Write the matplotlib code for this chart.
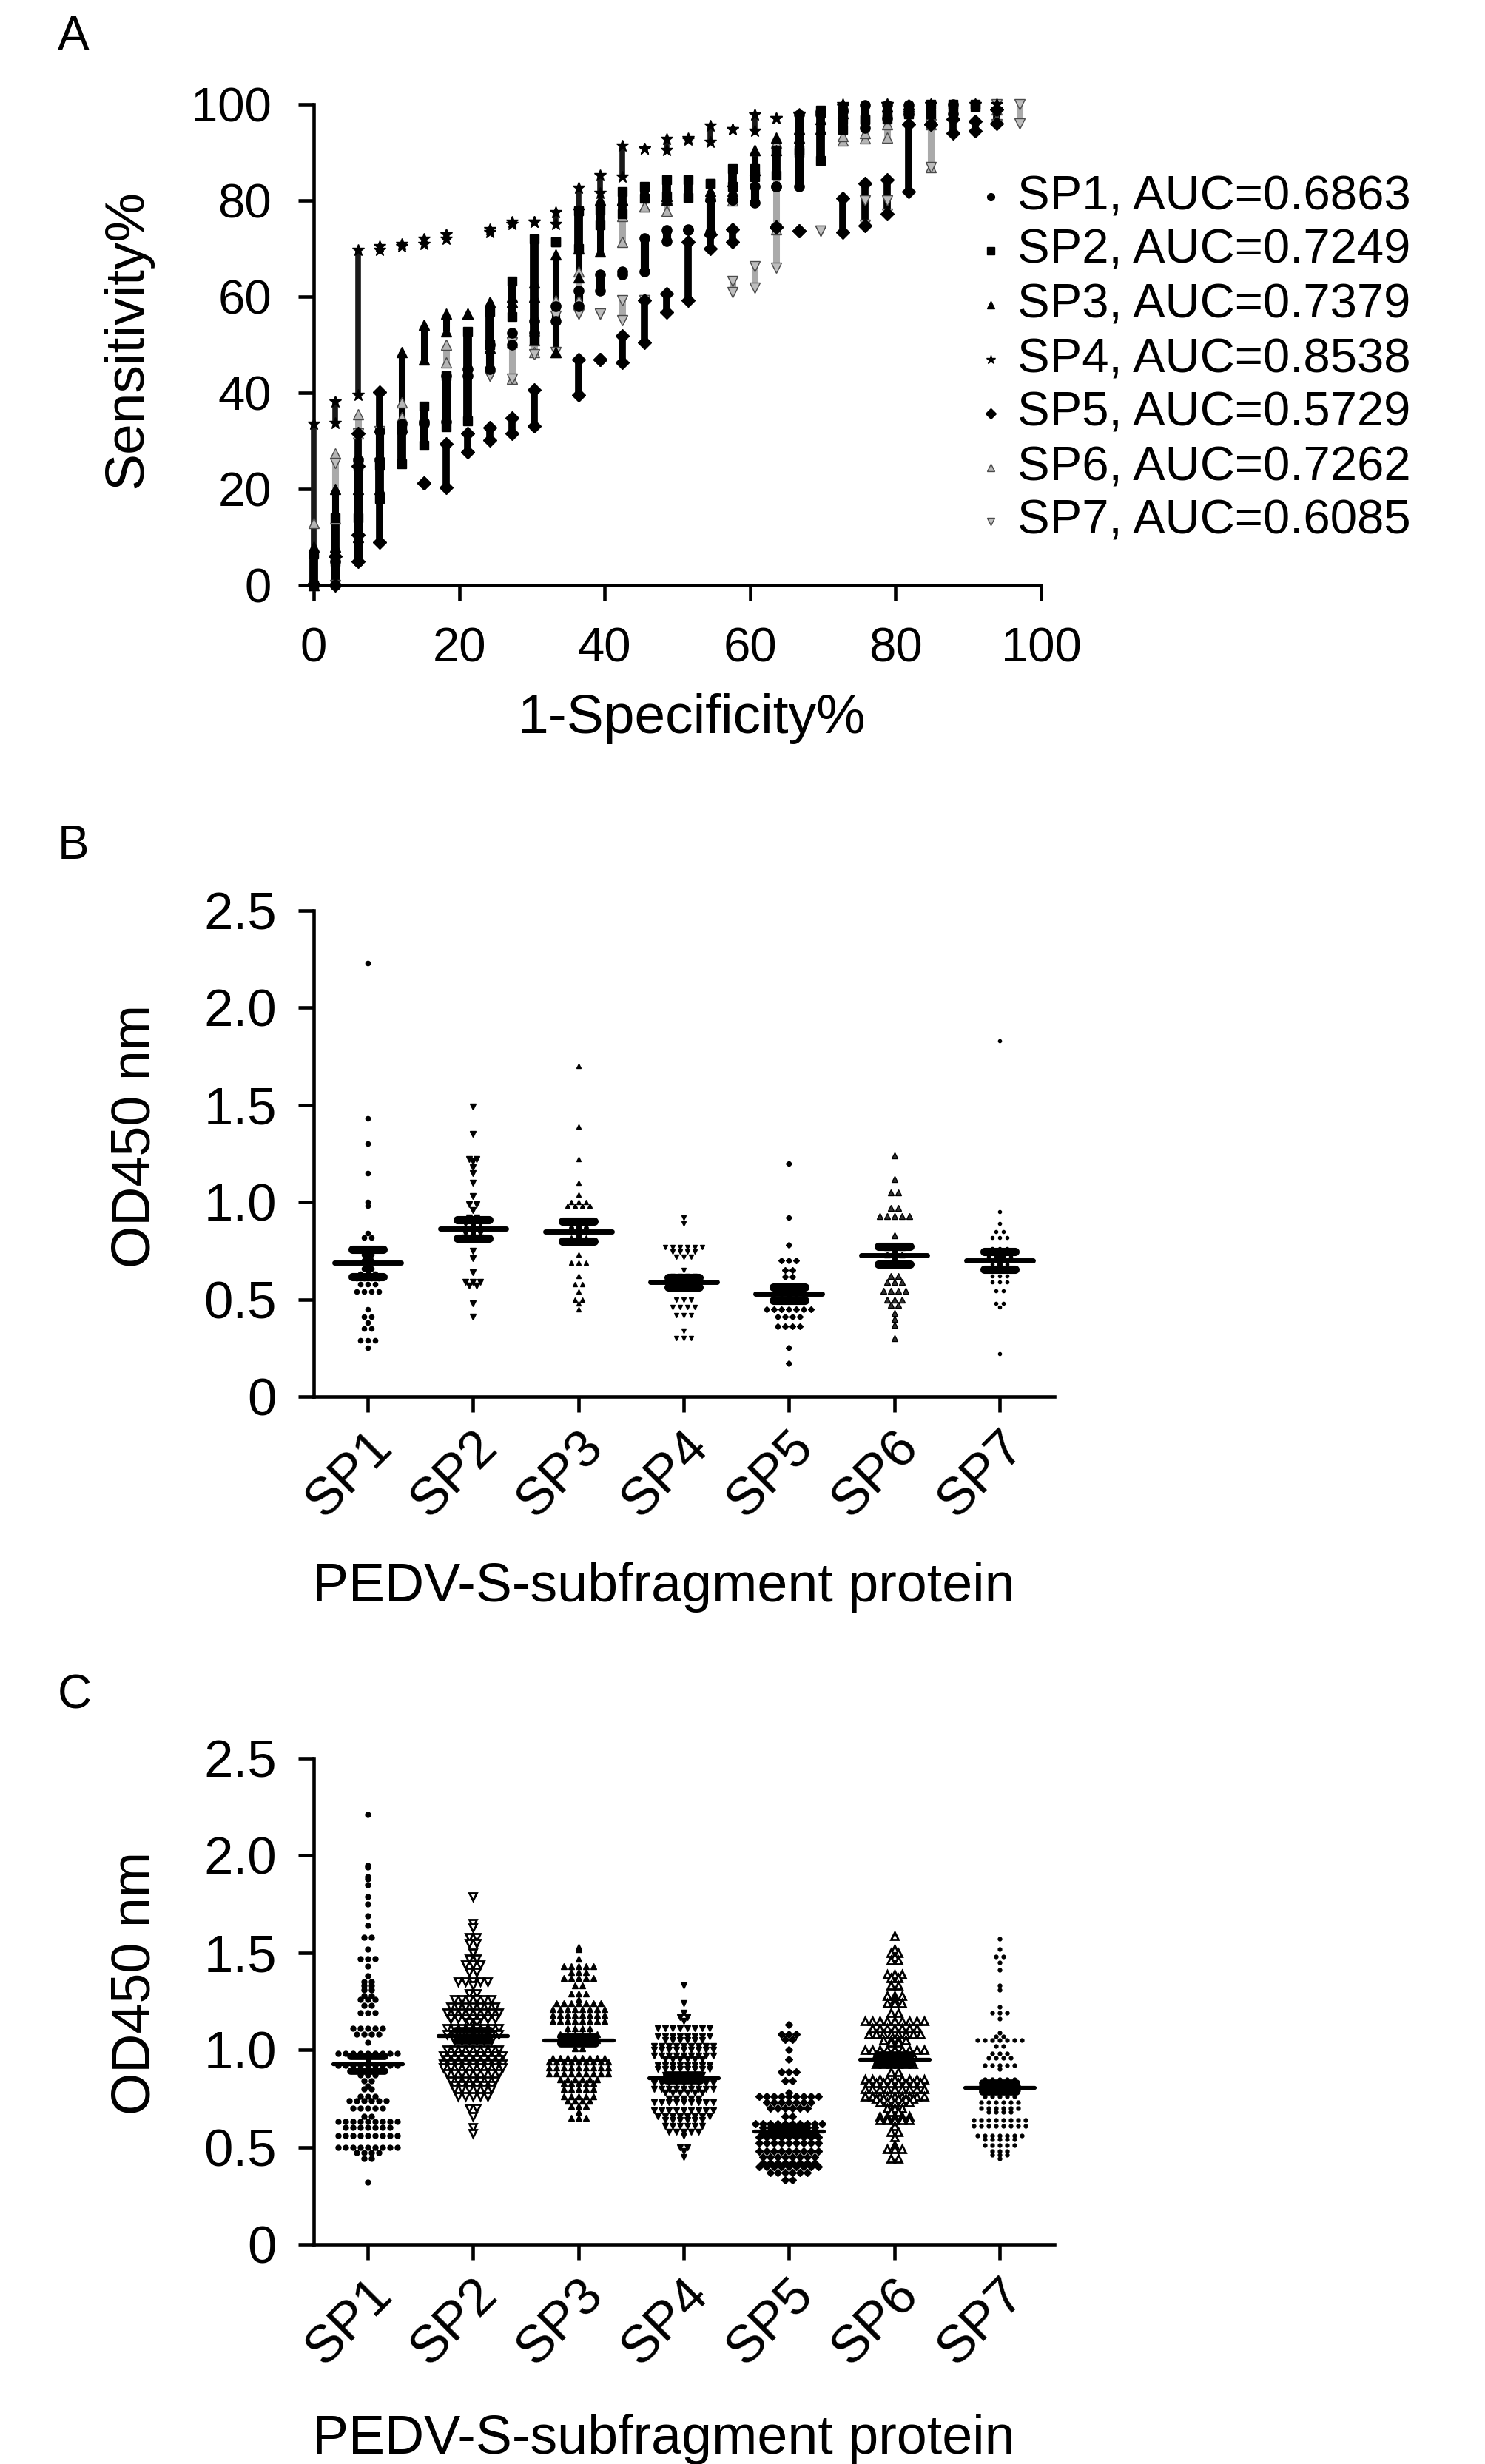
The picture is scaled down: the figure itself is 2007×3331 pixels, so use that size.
import numpy as np
import matplotlib
matplotlib.use('Agg')
import matplotlib.pyplot as plt

plt.rcParams['font.family'] = ['Liberation Sans', 'DejaVu Sans']

# ---- data ----
proteins = ['SP1', 'SP2', 'SP3', 'SP4', 'SP5', 'SP6', 'SP7']
auc = [0.6863, 0.7249, 0.7379, 0.8538, 0.5729, 0.7262, 0.6085]

# ROC (panel A): (1-specificity %, sensitivity low %, sensitivity high %) per visible column
roc_sp1 = [(0, 0, 0), (3.0, 0, 5), (6.1, 5, 26), (9.1, 26, 32), (12.1, 32, 33.5), (15.2, 33.5, 34),
           (18.2, 34, 43.6), (21.2, 43.6, 45), (24.2, 45, 50), (27.3, 50, 52.4), (30.3, 52.4, 55),
           (33.3, 55, 58), (36.4, 58, 61.2), (39.4, 61.2, 64.6), (42.4, 64.6, 65.3), (45.5, 65.3, 72.1),
           (48.5, 71.5, 73.8), (51.5, 73.8, 74), (54.5, 73.4, 80.2), (57.6, 80.2, 80.2), (60.6, 79.5, 82.9),
           (63.6, 82.9, 82.9), (66.7, 82.9, 97.8), (69.7, 97.8, 98.5), (72.7, 98.5, 99), (75.8, 95.1, 99.8),
           (78.8, 97.1, 99.8), (81.8, 98, 99.8), (87.9, 98, 100)]
roc_sp2 = [(0, 0, 6.5), (3.0, 5, 14), (6.1, 14, 24.7), (9.1, 18, 25), (12.1, 25.3, 33), (15.2, 29.1, 37.2),
           (18.2, 33, 43.6), (21.2, 34.2, 52.8), (24.2, 50, 57), (27.3, 55.8, 63.3), (30.3, 51, 72),
           (33.3, 71.4, 71.4), (36.4, 70, 77.8), (39.4, 75, 78), (42.4, 77.2, 81.9), (45.5, 80.5, 82.9),
           (48.5, 80.9, 84.3), (51.5, 80.6, 84.3), (54.5, 83.6, 83.6), (57.6, 82.9, 86.6), (60.6, 85, 86.6),
           (63.6, 85.3, 90.4), (66.7, 90, 90.4), (69.7, 88.3, 98.8), (72.7, 94.7, 96.8), (75.8, 96.8, 97),
           (78.8, 97, 98), (81.8, 98, 98.5), (84.8, 98, 100), (87.9, 99, 100), (90.9, 99.5, 100)]
roc_sp3 = [(0, 0, 8), (3.0, 8, 20), (6.1, 10, 20), (9.1, 20, 33), (12.1, 32.8, 48.4), (15.2, 47, 54.1),
           (18.2, 52.8, 56.5), (21.2, 56.5, 56.5), (24.2, 49.4, 58.9), (27.3, 58.9, 60), (30.3, 60, 63),
           (33.3, 48.4, 68.7), (36.4, 64, 70), (39.4, 69.4, 80.2), (42.4, 80.2, 80.2), (48.5, 80.2, 81),
           (54.5, 81, 82), (57.6, 82, 84), (60.6, 86.3, 90.4), (63.6, 90.4, 93.1), (66.7, 93.1, 95),
           (69.7, 95, 97), (72.7, 98.1, 99.5), (78.8, 99.5, 99.5), (81.8, 99.5, 100)]
roc_sp4 = [(0, 0, 33.5), (3.0, 33.7, 38.2), (6.1, 39.6, 69.7), (9.1, 69.7, 70.5), (12.1, 70.5, 71),
           (15.2, 71, 72), (18.2, 72, 73), (24.2, 73.4, 74), (27.3, 75.1, 75.5), (30.3, 75.5, 75.5),
           (33.3, 75.1, 77.5), (36.4, 77.8, 82.6), (39.4, 81.6, 85.3), (42.4, 84.9, 91.4), (45.5, 90.8, 90.8),
           (48.5, 90.4, 92.7), (51.5, 92.6, 93), (54.5, 92.1, 95.5), (57.6, 94.8, 94.8), (60.6, 94.4, 97.8),
           (63.6, 97.1, 97.1), (66.7, 97.8, 98), (72.7, 99.5, 100), (78.8, 100, 100), (84.8, 100, 100),
           (90.9, 100, 100), (93.9, 99, 100)]
roc_sp5 = [(3.0, 0, 6), (6.1, 5, 10.4), (6.1, 24.7, 31.5), (9.1, 9, 40.2), (15.2, 21.3, 21.3),
           (18.2, 20.3, 29.4), (21.2, 27.7, 31.5), (24.2, 30.1, 32.8), (27.3, 31.5, 34.8), (30.3, 33.1, 40.6),
           (36.4, 39.6, 47), (39.4, 47, 47), (42.4, 46.3, 51.8), (45.5, 50.4, 59.2), (48.5, 56.8, 60.6),
           (51.5, 59.3, 71.4), (54.5, 70, 73), (57.6, 71.4, 74), (63.6, 74.5, 74.5), (66.7, 73.7, 73.7),
           (72.7, 73.4, 80.5), (75.8, 74.7, 83.6), (78.8, 77.2, 84.3), (81.8, 81.9, 95.8), (84.8, 95.8, 95.8),
           (87.9, 94, 97), (90.9, 94.5, 96.5), (93.9, 96, 99)]
roc_sp6 = [(0, 0, 13), (3.0, 13.8, 27.4), (6.1, 31.5, 35.5), (12.1, 35, 38), (18.2, 46.3, 50),
           (27.3, 43, 50.4), (30.3, 48.4, 51), (33.3, 48.4, 59.2), (36.4, 59.2, 65.3), (42.4, 71.4, 76.8),
           (45.5, 78.8, 78.8), (48.5, 77.8, 80.5), (57.6, 80, 81), (60.6, 86.3, 90.4), (63.6, 74, 92),
           (72.7, 92.4, 93.4), (75.8, 93, 94), (78.8, 93.1, 95.8), (84.8, 87, 95.8), (93.9, 97, 99)]
roc_sp7 = [(3.0, 0, 25.4), (6.1, 25.4, 31.5), (9.1, 25.4, 32), (24.2, 43.6, 43.6), (27.3, 43, 50.4),
           (30.3, 48, 51), (33.3, 48.4, 56), (36.4, 56.5, 56.5), (39.4, 56.5, 56.5), (42.4, 55.1, 59.2),
           (45.5, 59.2, 59.2), (57.6, 61, 63.3), (60.6, 61.9, 66.3), (63.6, 66, 74), (69.7, 73.7, 73.7),
           (75.8, 75, 80), (78.8, 77.2, 80), (84.8, 87, 95.8), (93.9, 95.8, 100), (97.0, 96, 100)]

# Panel B (OD450, 1st serum set): rows of (value, number of points at that value)
b_sp1 = [(2.23, 1), (1.43, 1), (1.30, 1), (1.15, 1), (1.0, 1), (0.98, 1), (0.84, 1), (0.82, 2), (0.76, 2),
         (0.73, 2), (0.70, 2), (0.66, 2), (0.63, 3), (0.61, 4), (0.58, 3), (0.54, 4), (0.45, 1), (0.41, 2),
         (0.38, 1), (0.35, 2), (0.29, 3), (0.25, 1)]
b_sp2 = [(1.49, 1), (1.35, 1), (1.22, 2), (1.21, 1), (1.18, 1), (1.15, 1), (1.10, 1), (1.03, 1), (0.99, 2),
         (0.96, 1), (0.92, 2), (0.89, 3), (0.86, 3), (0.84, 3), (0.82, 3), (0.75, 1), (0.71, 1), (0.64, 1),
         (0.59, 3), (0.57, 2), (0.48, 1), (0.41, 1)]
b_sp3 = [(1.70, 1), (1.39, 1), (1.22, 1), (1.10, 1), (1.04, 1), (1.0, 3), (0.98, 4), (0.91, 2), (0.88, 3),
         (0.85, 3), (0.82, 3), (0.73, 1), (0.69, 3), (0.62, 1), (0.58, 2), (0.54, 1), (0.50, 2), (0.48, 1),
         (0.45, 1)]
b_sp4 = [(0.92, 1), (0.89, 1), (0.77, 6), (0.745, 4), (0.72, 3), (0.65, 1), (0.62, 4), (0.59, 5), (0.56, 4),
         (0.50, 3), (0.46, 4), (0.42, 3), (0.34, 1), (0.30, 3)]
b_sp5 = [(1.20, 1), (0.92, 1), (0.78, 1), (0.70, 3), (0.65, 2), (0.615, 2), (0.57, 4), (0.53, 5), (0.50, 5),
         (0.45, 7), (0.41, 4), (0.36, 4), (0.25, 1), (0.17, 1)]
b_sp6 = [(1.24, 1), (1.12, 1), (1.05, 2), (0.97, 2), (0.93, 5), (0.83, 1), (0.77, 3), (0.73, 3), (0.69, 3),
         (0.62, 2), (0.59, 3), (0.545, 4), (0.50, 3), (0.47, 2), (0.43, 1), (0.40, 1), (0.37, 1), (0.30, 1)]
b_sp7 = [(1.83, 1), (0.95, 1), (0.89, 1), (0.85, 2), (0.82, 3), (0.76, 3), (0.72, 4), (0.68, 3), (0.62, 3),
         (0.59, 3), (0.545, 2), (0.48, 2), (0.46, 1), (0.22, 1)]
b_mean = [0.688, 0.863, 0.85, 0.588, 0.53, 0.728, 0.70]
b_sem = [0.07, 0.048, 0.05, 0.023, 0.035, 0.045, 0.046]

# Panel C (OD450, 2nd serum set)
c_sp1 = [(2.21, 1), (1.95, 1), (1.94, 1), (1.89, 1), (1.88, 1), (1.85, 1), (1.79, 1), (1.75, 1), (1.69, 1),
         (1.64, 1), (1.58, 2), (1.52, 1), (1.47, 3), (1.43, 1), (1.38, 1), (1.35, 2), (1.33, 2), (1.31, 2),
         (1.28, 2), (1.26, 3), (1.23, 2), (1.19, 3), (1.11, 5), (1.08, 4), (1.04, 1), (0.98, 9), (0.92, 9),
         (0.87, 3), (0.84, 2), (0.815, 1), (0.80, 2), (0.76, 3), (0.74, 6), (0.70, 5), (0.66, 2), (0.63, 9),
         (0.60, 7), (0.56, 9), (0.50, 9), (0.47, 4), (0.44, 2), (0.32, 1)]
c_sp2 = [(1.79, 1), (1.65, 1), (1.63, 1), (1.58, 2), (1.55, 2), (1.50, 1), (1.47, 2), (1.44, 3), (1.40, 2),
         (1.35, 5), (1.33, 1), (1.29, 2), (1.26, 6), (1.22, 7), (1.19, 8), (1.16, 7), (1.14, 2), (1.11, 8),
         (1.08, 8), (1.05, 6), (1.00, 8), (0.97, 9), (0.95, 8), (0.93, 9), (0.91, 9), (0.88, 8), (0.84, 7),
         (0.82, 6), (0.80, 6), (0.76, 5), (0.70, 2), (0.66, 1), (0.60, 1), (0.57, 1)]
c_sp3 = [(1.53, 1), (1.52, 1), (1.47, 1), (1.43, 5), (1.40, 3), (1.37, 5), (1.33, 2), (1.29, 3), (1.26, 1),
         (1.24, 7), (1.21, 8), (1.18, 8), (1.15, 8), (1.11, 4), (1.08, 6), (1.05, 6), (1.01, 2), (0.96, 8),
         (0.94, 9), (0.91, 9), (0.88, 9), (0.85, 6), (0.83, 5), (0.80, 5), (0.76, 5), (0.74, 4), (0.71, 3),
         (0.68, 1), (0.65, 3)]
c_sp4 = [(1.33, 1), (1.24, 1), (1.19, 1), (1.17, 2), (1.15, 1), (1.11, 8), (1.07, 8), (1.05, 6), (1.02, 9),
         (1.00, 9), (0.97, 9), (0.95, 6), (0.92, 8), (0.90, 8), (0.87, 6), (0.85, 6), (0.83, 9), (0.80, 9),
         (0.78, 6), (0.75, 5), (0.73, 9), (0.69, 9), (0.66, 8), (0.64, 6), (0.61, 6), (0.58, 5), (0.56, 1),
         (0.50, 2), (0.48, 1), (0.45, 1)]
c_sp5 = [(1.13, 1), (1.08, 3), (1.055, 2), (1.00, 1), (0.95, 1), (0.885, 3), (0.84, 2), (0.78, 1), (0.76, 9),
         (0.73, 7), (0.70, 6), (0.66, 2), (0.62, 10), (0.60, 8), (0.57, 8), (0.55, 9), (0.52, 9), (0.48, 9),
         (0.45, 8), (0.42, 8), (0.40, 9), (0.37, 6), (0.33, 2)]
c_sp6 = [(1.585, 1), (1.52, 1), (1.50, 2), (1.48, 1), (1.46, 2), (1.39, 3), (1.37, 2), (1.33, 2), (1.28, 3),
         (1.26, 1), (1.24, 3), (1.19, 2), (1.15, 9), (1.11, 7), (1.08, 8), (1.05, 4), (1.04, 2), (1.00, 9),
         (0.97, 6), (0.93, 6), (0.885, 2), (0.85, 9), (0.83, 8), (0.80, 9), (0.76, 9), (0.75, 6), (0.73, 5),
         (0.70, 3), (0.68, 2), (0.66, 5), (0.64, 5), (0.61, 1), (0.58, 2), (0.55, 1), (0.51, 1), (0.49, 3),
         (0.44, 2)]
c_sp7 = [(1.57, 1), (1.52, 1), (1.48, 2), (1.45, 1), (1.41, 1), (1.33, 1), (1.31, 1), (1.22, 1), (1.19, 3),
         (1.16, 1), (1.09, 1), (1.07, 2), (1.05, 7), (1.02, 2), (0.98, 3), (0.96, 4), (0.92, 5), (0.90, 1),
         (0.85, 5), (0.82, 6), (0.79, 6), (0.76, 5), (0.73, 6), (0.70, 6), (0.68, 4), (0.64, 8), (0.61, 8),
         (0.56, 7), (0.54, 5), (0.51, 5), (0.48, 3), (0.46, 3), (0.44, 1)]
c_mean = [0.93, 1.073, 1.05, 0.857, 0.584, 0.95, 0.806]
c_sem = [0.038, 0.025, 0.02, 0.016, 0.016, 0.025, 0.022]

od_ticks = [0, 0.5, 1.0, 1.5, 2.0, 2.5]
od_ticklabels = ['0', '0.5', '1.0', '1.5', '2.0', '2.5']

# ---- figure ----
W, H = 2008, 3331
fig = plt.figure(figsize=(W / 100, H / 100), dpi=100)


def fx(px):
    return px / W


def fy(py):
    return 1 - py / H


def style_axes(ax, tick_size, pad):
    for side in ['top', 'right']:
        ax.spines[side].set_visible(False)
    for side in ['left', 'bottom']:
        ax.spines[side].set_linewidth(3.3)
    ax.tick_params(direction='out', length=15, width=3.3, labelsize=tick_size, pad=pad)


# ---------------- panel A: ROC ----------------
axA = fig.add_axes([fx(424), fy(791), fx(1407) - fx(424), fy(141) - fy(791)])
axA.set_xlim(0, 100)
axA.set_ylim(0, 100)
style_axes(axA, 47, 26)
axA.set_xticks([0, 20, 40, 60, 80, 100])
axA.set_yticks([0, 20, 40, 60, 80, 100])

roc_series = [roc_sp1, roc_sp2, roc_sp3, roc_sp4, roc_sp5, roc_sp6, roc_sp7]
roc_style = [
    dict(marker='o', ms=9.5, mfc='black', mec='black', col='black', lw=8.0, leg=7),
    dict(marker='s', ms=9.0, mfc='black', mec='black', col='black', lw=8.5, leg=7),
    dict(marker='^', ms=9.5, mfc='black', mec='black', col='black', lw=6.5, leg=7),
    dict(marker='*', ms=12, mfc='black', mec='black', col='#1a1a1a', lw=5.5, leg=9),
    dict(marker='D', ms=9.0, mfc='black', mec='black', col='black', lw=7.0, leg=7.5),
    dict(marker='^', ms=9.5, mfc='#b5b5b5', mec='#4a4a4a', col='#a8a8a8', lw=6.5, leg=7),
    dict(marker='v', ms=9.5, mfc='#bdbdbd', mec='#4a4a4a', col='#aaaaaa', lw=6.5, leg=7),
]
draw_order = [5, 6, 4, 3, 2, 1, 0]
for i in draw_order:
    segs = roc_series[i]
    st = roc_style[i]
    xs = [s[0] for s in segs]
    lo = [s[1] for s in segs]
    hi = [s[2] for s in segs]
    axA.vlines(xs, lo, hi, colors=st['col'], lw=st['lw'], clip_on=False, zorder=3)
    axA.plot(xs + xs, lo + hi, linestyle='none', marker=st['marker'], ms=st['ms'],
             mfc=st['mfc'], mec=st['mec'], clip_on=False, zorder=4)

# legend (manual)
leg_rows = [266, 339, 412, 486, 559, 632, 705]
for i, name in enumerate(proteins):
    st = roc_style[i]
    axA.plot([fx(1339)], [fy(leg_rows[i])], transform=fig.transFigure, linestyle='none',
             marker=st['marker'], ms=st['leg'], mfc=st['mfc'], mec=st['mec'], clip_on=False)
    fig.text(fx(1375), fy(leg_rows[i]), f'{name}, AUC={auc[i]:.4f}', fontsize=47,
             ha='left', va='center')

fig.text(fx(172), fy(458), 'Sensitivity%', fontsize=54, rotation=90, ha='center', va='center')
fig.text(fx(935), fy(972), '1-Specificity%', fontsize=54, ha='center', va='center')


# ---------------- panels B and C: dot plots ----------------
def swarm(ax, xc, rows, style, dx=0.07):
    xs, ys = [], []
    for val, n in rows:
        for k in range(n):
            xs.append(xc + (k - (n - 1) / 2) * dx)
            ys.append(val)
    ax.plot(xs, ys, linestyle='none', clip_on=False, zorder=3, **style)


def mean_sem(ax, xc, m, s, half_mean, half_cap, lw_mean, lw_cap, lw_bar):
    ax.vlines(xc, m - s, m + s, colors='black', lw=lw_bar, zorder=5)
    ax.hlines([m - s, m + s], xc - half_cap, xc + half_cap, colors='black', lw=lw_cap,
              capstyle='round', zorder=5)
    ax.hlines(m, xc - half_mean, xc + half_mean, colors='black', lw=lw_mean,
              capstyle='round', zorder=6)


def dot_panel(top_px, bottom_px, groups, means, sems, styles, lw_mean, lw_cap, half_mean, half_cap):
    ax = fig.add_axes([fx(424), fy(bottom_px), fx(1425) - fx(424), fy(top_px) - fy(bottom_px)])
    ax.set_xlim(0.487, 7.52)
    ax.set_ylim(0, 2.5)
    style_axes(ax, 51, 21)
    ax.set_yticks(od_ticks)
    ax.set_yticklabels(od_ticklabels)
    ax.set_xticks(range(1, 8))
    ax.set_xticklabels(proteins, rotation=45, ha='right', va='top', rotation_mode='anchor')
    ax.tick_params(axis='x', pad=10)
    for i, rows in enumerate(groups):
        swarm(ax, i + 1, rows, styles[i])
        mean_sem(ax, i + 1, means[i], sems[i], half_mean, half_cap, lw_mean, lw_cap, 5)
    return ax


b_styles = [
    dict(marker='o', ms=4.5, color='black'),
    dict(marker='v', ms=5.5, color='black'),
    dict(marker='^', ms=5, color='black'),
    dict(marker='v', ms=5, color='black'),
    dict(marker='D', ms=4.5, color='black'),
    dict(marker='^', ms=6, mfc='#333333', mec='black'),
    dict(marker='o', ms=3, color='black'),
]
c_styles = [
    dict(marker='o', ms=5, color='black'),
    dict(marker='v', ms=7, mfc='white', mec='black', mew=2),
    dict(marker='^', ms=6, color='black'),
    dict(marker='v', ms=6, color='black'),
    dict(marker='D', ms=5.5, color='black'),
    dict(marker='^', ms=7.5, mfc='white', mec='black', mew=2),
    dict(marker='o', ms=3.5, color='black'),
]

axB = dot_panel(1231, 1888, [b_sp1, b_sp2, b_sp3, b_sp4, b_sp5, b_sp6, b_sp7], b_mean, b_sem,
                b_styles, 5, 8, 0.315, 0.15)
axC = dot_panel(2377, 3034, [c_sp1, c_sp2, c_sp3, c_sp4, c_sp5, c_sp6, c_sp7], c_mean, c_sem,
                c_styles, 3.8, 7, 0.33, 0.165)

fig.text(fx(183), fy(1536), 'OD450 nm', fontsize=53, rotation=90, ha='center', va='center')
fig.text(fx(897), fy(2145), 'PEDV-S-subfragment protein', fontsize=53, ha='center', va='center')
fig.text(fx(183), fy(2681), 'OD450 nm', fontsize=53, rotation=90, ha='center', va='center')
fig.text(fx(897), fy(3298), 'PEDV-S-subfragment protein', fontsize=53, ha='center', va='center')

# panel letters
for letter, top in [('A', 20), ('B', 1114), ('C', 2262)]:
    fig.text(fx(78), fy(top), letter, fontsize=46, ha='left', va='top')

fig.savefig('out.png', dpi=100, facecolor='white')
